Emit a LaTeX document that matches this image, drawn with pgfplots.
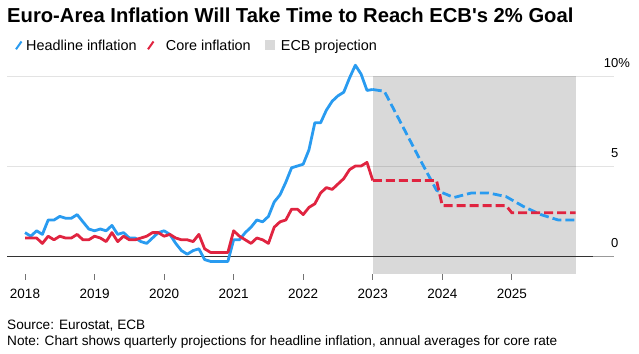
\documentclass[border=0pt]{standalone}
\usepackage{pgfplots}
\pgfplotsset{compat=1.18}
\usepackage{fontspec}
\setmainfont{Liberation Sans}
\definecolor{hblue}{RGB}{41,155,240}
\definecolor{cred}{RGB}{224,36,64}
\begin{document}
\begin{tikzpicture}
\useasboundingbox (0,0) rectangle (639pt,-353pt);
% title
\node[anchor=base west, inner sep=0pt, font=\bfseries\fontsize{20.2}{24}\selectfont] at (7pt,-22.7pt) {Euro-Area Inflation Will Take Time to Reach ECB\textquotesingle s 2\% Goal};
% legend
\draw[hblue, line width=2pt] (16pt,-49.3pt) -- (21.5pt,-41.5pt);
\node[anchor=base west, inner sep=0pt, font=\fontsize{14.4}{17}\selectfont] at (26pt,-50pt) {Headline inflation};
\draw[cred, line width=2pt] (148pt,-49.3pt) -- (153.5pt,-41.5pt);
\node[anchor=base west, inner sep=0pt, font=\fontsize{14.4}{17}\selectfont] at (165.7pt,-50pt) {Core inflation};
\fill[black!15] (265pt,-50pt) rectangle (275pt,-40pt);
\node[anchor=base west, inner sep=0pt, font=\fontsize{14.4}{17}\selectfont] at (280.7pt,-50pt) {ECB projection};
% footer
\node[anchor=base west, inner sep=0pt, font=\fontsize{13.6}{16}\selectfont] at (7pt,-329.3pt) {Source: Eurostat, ECB};
\node[anchor=base west, inner sep=0pt, font=\fontsize{13.6}{16}\selectfont] at (7pt,-345.3pt) {Note: Chart shows quarterly projections for headline inflation, annual averages for core rate};
\begin{axis}[
  at={(7pt,-274pt)}, anchor=south west,
  scale only axis, width=607pt, height=198pt,
  xmin=2017.7412, xmax=2026.4687, ymin=-1, ymax=10,
  axis line style={draw=none},
  clip=false,
  /pgf/number format/assume math mode=true,
  xtick={2018,2019,2020,2021,2022,2023,2024,2025},
  xticklabels={2018,2019,2020,2021,2022,2023,2024,2025},
  xtick pos=bottom, tick align=outside,
  major tick length=5.5pt,
  x tick style={draw=black!55, line width=1pt},
  xticklabel style={font=\fontsize{13.5}{16}\selectfont, anchor=base, yshift=-18.8pt},
  ytick={0,5,10},
  yticklabels={0,5,10\rlap{\%}},
  yticklabel pos=right,
  y tick style={draw=none},
  yticklabel style={font=\fontsize{13}{15}\selectfont, anchor=base east, inner sep=0pt, xshift=-1pt, yshift=8.4pt},
  ymajorgrids,
  y grid style={color=black!11, line width=0.9pt},
]
% ECB projection shading
\addplot[draw=none, fill=black, fill opacity=0.15] coordinates {(2023,-1) (2025.917,-1) (2025.917,10) (2023,10)} -- cycle;
% zero line
\addplot[black!80, line width=0.9pt] coordinates {(2017.7412,0) (2026.167,0)};
\addplot[black!40, line width=0.9pt] coordinates {(2026.167,0) (2026.4687,0)};
% headline actual
\addplot[hblue, line width=2.8pt, line join=round] table {
2018.000 1.3
2018.083 1.1
2018.167 1.4
2018.250 1.2
2018.333 2.0
2018.417 2.0
2018.500 2.2
2018.583 2.1
2018.667 2.1
2018.750 2.3
2018.833 1.9
2018.917 1.5
2019.000 1.4
2019.083 1.5
2019.167 1.4
2019.250 1.7
2019.333 1.2
2019.417 1.3
2019.500 1.0
2019.583 1.0
2019.667 0.8
2019.750 0.7
2019.833 1.0
2019.917 1.3
2020.000 1.4
2020.083 1.2
2020.167 0.7
2020.250 0.3
2020.333 0.1
2020.417 0.3
2020.500 0.4
2020.583 -0.2
2020.667 -0.3
2020.750 -0.3
2020.833 -0.3
2020.917 -0.3
2021.000 0.9
2021.083 0.9
2021.167 1.3
2021.250 1.6
2021.333 2.0
2021.417 1.9
2021.500 2.2
2021.583 3.0
2021.667 3.4
2021.750 4.1
2021.833 4.9
2021.917 5.0
2022.000 5.1
2022.083 5.9
2022.167 7.4
2022.250 7.4
2022.333 8.1
2022.417 8.6
2022.500 8.9
2022.583 9.1
2022.667 9.9
2022.750 10.6
2022.833 10.1
2022.917 9.2
2023.000 9.25
};
% core actual
\addplot[cred, line width=2.8pt, line join=round] table {
2018.000 1.0
2018.083 1.0
2018.167 1.0
2018.250 0.7
2018.333 1.1
2018.417 0.9
2018.500 1.1
2018.583 1.0
2018.667 1.0
2018.750 1.2
2018.833 0.9
2018.917 0.9
2019.000 1.1
2019.083 1.0
2019.167 0.8
2019.250 1.3
2019.333 0.8
2019.417 1.1
2019.500 0.9
2019.583 0.9
2019.667 1.0
2019.750 1.1
2019.833 1.3
2019.917 1.3
2020.000 1.1
2020.083 1.2
2020.167 1.0
2020.250 0.9
2020.333 0.9
2020.417 0.8
2020.500 1.2
2020.583 0.4
2020.667 0.2
2020.750 0.2
2020.833 0.2
2020.917 0.2
2021.000 1.4
2021.083 1.1
2021.167 0.9
2021.250 0.7
2021.333 1.0
2021.417 0.9
2021.500 0.7
2021.583 1.6
2021.667 1.9
2021.750 2.0
2021.833 2.6
2021.917 2.6
2022.000 2.3
2022.083 2.7
2022.167 2.9
2022.250 3.5
2022.333 3.8
2022.417 3.7
2022.500 4.0
2022.583 4.3
2022.667 4.8
2022.750 5.0
2022.833 5.0
2022.917 5.2
2023.000 4.2
};
% headline projection
\addplot[hblue, line width=2.8pt, dash pattern=on 9pt off 4pt, line join=round] table {
2023.000 9.25
2023.167 9.15
2023.417 7.3
2023.667 5.45
2023.917 3.65
2024.167 3.25
2024.417 3.5
2024.667 3.5
2024.917 3.3
2025.167 2.75
2025.417 2.3
2025.667 2.0
2025.917 2.0
};
% core projection
\addplot[cred, line width=2.8pt, dash pattern=on 9pt off 4pt] table {
2023.000 4.2
2023.917 4.2
2024.000 2.8
2024.917 2.8
2025.000 2.4
2025.917 2.4
};
\end{axis}
\end{tikzpicture}
\end{document}
